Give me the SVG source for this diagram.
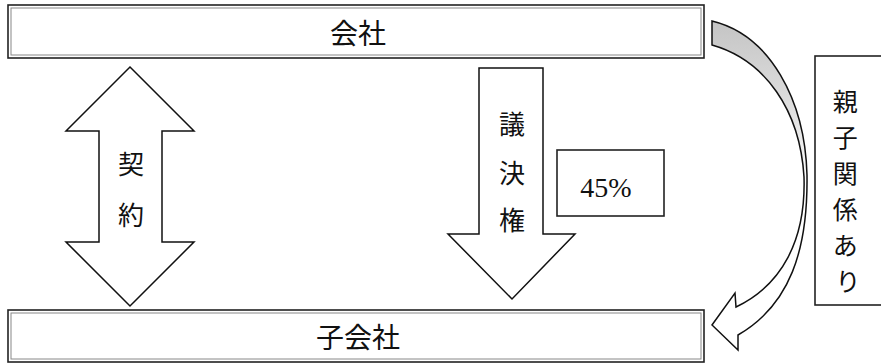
<svg xmlns="http://www.w3.org/2000/svg" width="881" height="364" viewBox="0 0 881 364">
<style>
  .outer{fill:#fff;stroke:#222;stroke-width:1.6}
  .inner{fill:none;stroke:#888;stroke-width:1}
  .shape{fill:#fff;stroke:#111;stroke-width:1.5;stroke-linejoin:miter}
  .jp{font-family:"Noto Sans CJK JP","Noto Sans CJK SC",sans-serif;fill:#111;text-anchor:middle;dominant-baseline:central}
  .num{font-family:"Liberation Serif",serif;fill:#111;text-anchor:middle;dominant-baseline:central}
</style>
<defs>
  <linearGradient id="curveFill" x1="0" y1="20" x2="0" y2="190" gradientUnits="userSpaceOnUse">
    <stop offset="0" stop-color="#c4c4c4"/>
    <stop offset="0.5" stop-color="#dedede"/>
    <stop offset="1" stop-color="#ffffff"/>
  </linearGradient>
</defs>
<g id="company">
  <rect class="outer" x="8" y="5" width="696" height="53"/>
  <rect class="inner" x="11" y="8" width="690" height="47"/>
  <text class="jp" x="358" y="32" font-size="28">会社</text>
</g>
<g id="subsidiary">
  <rect class="outer" x="8" y="310" width="696" height="52"/>
  <rect class="inner" x="11" y="313" width="690" height="46"/>
  <text class="jp" x="358" y="336" font-size="28">子会社</text>
</g>
<g id="connectors">
  <g id="contract">
    <path class="shape" d="M130,67 L194,131 L162,131 L162,242 L194,242 L130,306 L66,242 L99,242 L99,131 L66,131 Z"/>
    <text class="jp" x="131" y="162" font-size="26">契</text>
    <text class="jp" x="131" y="213" font-size="26">約</text>
  </g>
  <g id="voting">
    <path class="shape" d="M479,68 L543,68 L543,234 L575,234 L512,299 L448,234 L479,234 Z"/>
    <text class="jp" x="512" y="122" font-size="26">議</text>
    <text class="jp" x="512" y="171" font-size="26">決</text>
    <text class="jp" x="512" y="218" font-size="26">権</text>
  </g>
  <g id="parent-curve">
    <path d="M712,21 C770,35 805,100 807,175 C808,250 790,305 738,335 L738,350 L712,325 L735,293 L736,307 C782,285 806,240 804,177 C800,110 765,60 712,45 Z" fill="url(#curveFill)" stroke="#111" stroke-width="1.5" stroke-linejoin="miter"/>
  </g>
</g>
<g id="pct-box">
  <rect class="outer" x="557" y="150" width="107" height="66"/>
  <text class="num" x="606" y="187" font-size="28">45%</text>
</g>
<g id="relation-box">
  <rect class="outer" x="815" y="56" width="80" height="249"/>
  <text class="jp" font-size="25">
    <tspan x="848" y="100">親</tspan>
    <tspan x="848" y="136">子</tspan>
    <tspan x="848" y="172">関</tspan>
    <tspan x="848" y="208">係</tspan>
    <tspan x="848" y="244">あ</tspan>
    <tspan x="848" y="280">り</tspan>
  </text>
</g>
</svg>
